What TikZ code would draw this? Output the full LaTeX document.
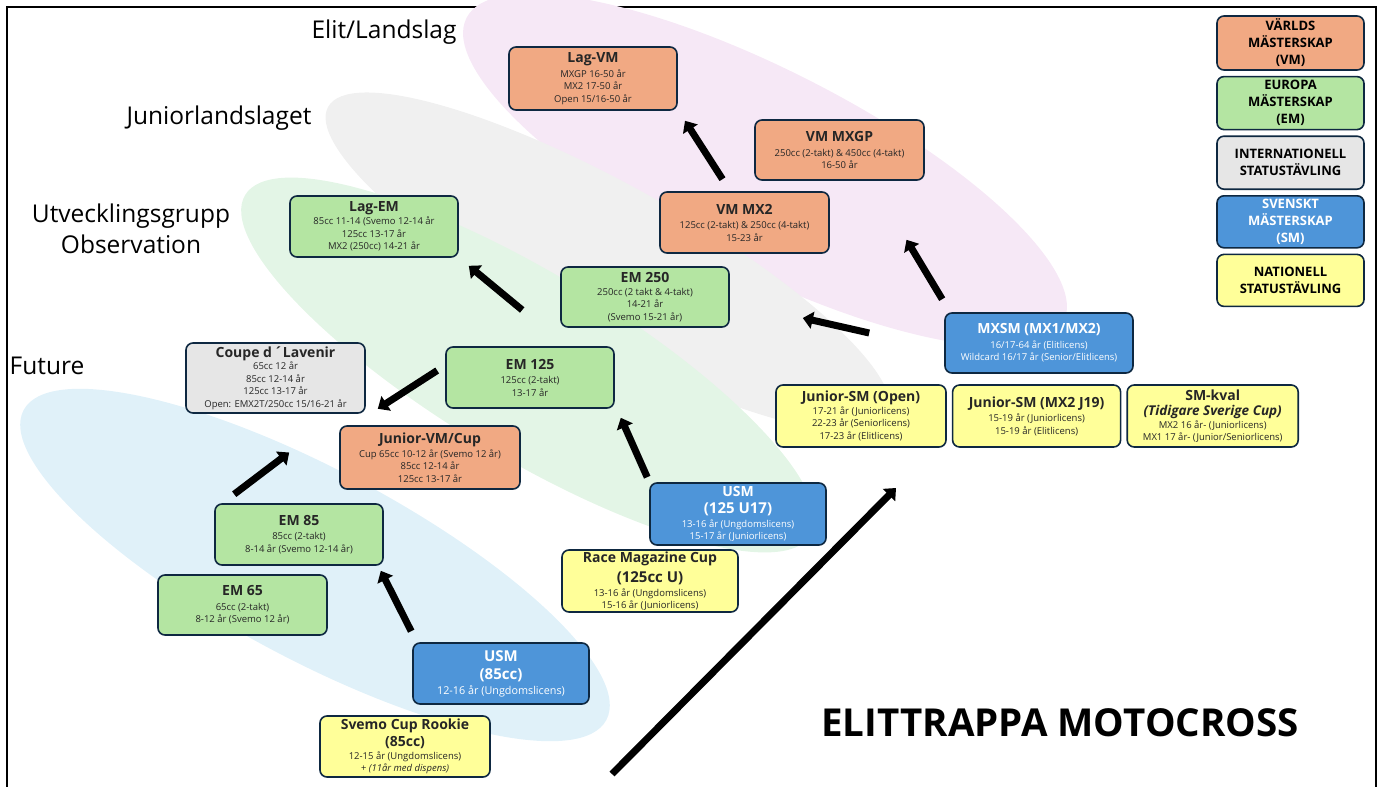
\documentclass[tikz,border=0pt]{standalone}
\usepackage{fontspec}
\setmainfont{Open Sans}
\usetikzlibrary{positioning,calc,arrows.meta}

\definecolor{vmfill}{HTML}{F1A983}
\definecolor{emfill}{HTML}{B4E5A2}
\definecolor{intfill}{HTML}{E6E6E6}
\definecolor{smfill}{HTML}{4E95D9}
\definecolor{natfill}{HTML}{FFFF99}
\definecolor{edge}{HTML}{0E2841}
\definecolor{elitbg}{HTML}{F6E8F6}
\definecolor{juniorbg}{HTML}{F0F0F0}
\definecolor{utvbg}{HTML}{E3F5E6}
\definecolor{futurebg}{HTML}{E0F1F9}
\definecolor{smalltxt}{HTML}{262626}

\newcommand{\hd}[1]{{\fontsize{14}{16}\selectfont\bfseries #1}}
\newcommand{\hdbig}[1]{{\fontsize{15}{17}\selectfont\bfseries #1}}

\tikzset{
  tier/.style={draw=edge, line width=1.6pt, rounded corners=7pt,
    minimum width=168pt, minimum height=61pt, align=center, inner sep=1pt,
    font=\fontsize{9.5}{12.5}\selectfont, text=smalltxt},
  vm/.style={tier, fill=vmfill},
  em/.style={tier, fill=emfill},
  intl/.style={tier, fill=intfill},
  sm/.style={tier, fill=smfill, text=white},
  nat/.style={tier, fill=natfill},
  keybox/.style={draw=edge, line width=1.6pt, rounded corners=7pt,
    minimum width=147pt, minimum height=53pt, align=center, inner sep=0pt,
    font=\fontsize{13}{17}\selectfont\bfseries},
  stage/.style={font=\fontsize{24.5}{31}\selectfont, align=center},
  push/.style={line width=7pt, -{Triangle[length=10pt,width=17pt]}},
}

\begin{document}
\begin{tikzpicture}[x=1pt,y=-1pt]
\useasboundingbox (0,0) rectangle (1384,787);
\draw[line width=1.4pt] (7,800) -- (7,7) -- (1376,7) -- (1376,800);

% levels in the background
\fill[elitbg, rotate around={-27:(765,170)}] (765,170) ellipse [x radius=335, y radius=100];
\fill[juniorbg, rotate around={-29:(608,262)}] (608,262) ellipse [x radius=320, y radius=78];
\fill[utvbg, rotate around={-31:(528,365)}] (528,365) ellipse [x radius=330, y radius=92];
\fill[futurebg, rotate around={-28:(315,565)}] (315,565) ellipse [x radius=330, y radius=95];

\node[stage] (elit) at (384,32) {Elit/Landslag};
\node[stage] (junior) at (219,118) {Juniorlandslaget};
\node[stage] (utv) at (131,229) {Utvecklingsgrupp\\Observation};
\node[stage] (future) at (47,366) {Future};

% competitions
\node[vm, minimum height=63pt] (lagvm) at (593,78.5) {\hd{Lag-VM}\\[2pt]MXGP 16-50 år\\MX2 17-50 år\\Open 15/16-50 år};
\node[vm, minimum width=169pt, minimum height=60pt] (vmmxgp) at (839.5,150) {\hd{VM MXGP}\\[2pt]250cc (2-takt) \& 450cc (4-takt)\\16-50 år};
\node[vm, minimum width=169pt] (vmmx2) at (744.5,222.5) {\hd{VM MX2}\\[2pt]125cc (2-takt) \& 250cc (4-takt)\\15-23 år};
\node[em, minimum height=60pt] (em250) at (645,297) {\hd{EM 250}\\250cc (2 takt \& 4-takt)\\14-21 år\\(Svemo 15-21 år)};
\node[em] (lagem) at (374,226.5) {\hd{Lag-EM}\\[1pt]85cc 11-14 (Svemo 12-14 år\\125cc 13-17 år\\MX2 (250cc) 14-21 år};
\node[em] (em125) at (530,377.5) {\hd{EM 125}\\[2pt]125cc (2-takt)\\13-17 år};
\node[intl, minimum width=179pt, minimum height=70pt] (coupe) at (275.5,378) {\hd{Coupe d\,´Lavenir}\\65cc 12 år\\85cc 12-14 år\\125cc 13-17 år\\Open: EMX2T/250cc 15/16-21 år};
\node[vm, minimum width=180pt, minimum height=63pt] (jvm) at (430,457.5) {\hd{Junior-VM/Cup}\\[1pt]Cup 65cc 10-12 år (Svemo 12 år)\\85cc 12-14 år\\125cc 13-17 år};
\node[em] (em85) at (299,534.5) {\hd{EM 85}\\[2pt]85cc (2-takt)\\8-14 år (Svemo 12-14 år)};
\node[em, minimum width=169pt, minimum height=60pt] (em65) at (242.5,605) {\hd{EM 65}\\[2pt]65cc (2-takt)\\8-12 år (Svemo 12 år)};
\node[sm, minimum width=176pt, font=\fontsize{10.8}{14}\selectfont] (usm85) at (501,673.5) {\hdbig{USM}\\[4pt]\hdbig{(85cc)}\\[1pt]12-16 år (Ungdomslicens)};
\node[nat, minimum width=170pt] (rookie) at (405,746.5) {\hd{Svemo Cup Rookie}\\[3pt]\hd{(85cc)}\\12-15 år (Ungdomslicens)\\\textit{+ (11år med dispens)}};
\node[sm, minimum width=176pt, minimum height=62pt] (usm125) at (738,514) {\hd{USM}\\[5pt]\hdbig{(125 U17)}\\[1pt]13-16 år (Ungdomslicens)\\15-17 år (Juniorlicens)};
\node[nat, minimum width=176pt, minimum height=62pt] (race) at (650,581) {\hd{Race Magazine Cup}\\[5pt]\hdbig{(125cc U)}\\[1pt]13-16 år (Ungdomslicens)\\15-16 år (Juniorlicens)};
\node[sm, minimum width=188pt, minimum height=60pt] (mxsm) at (1039,343) {\hd{MXSM (MX1/MX2)}\\[2pt]16/17-64 år (Elitlicens)\\Wildcard 16/17 år (Senior/Elitlicens)};
\node[nat, minimum width=170pt, minimum height=62pt] (jsmopen) at (861,416) {\hd{Junior-SM (Open)}\\17-21 år (Juniorlicens)\\22-23 år (Seniorlicens)\\17-23 år (Elitlicens)};
\node[nat, minimum height=62pt, right=5pt of jsmopen] (jsmmx2) {\hd{Junior-SM (MX2 J19)}\\[2pt]15-19 år (Juniorlicens)\\15-19 år (Elitlicens)};
\node[nat, minimum width=171pt, minimum height=62pt, right=5pt of jsmmx2] (smkval) {\hd{SM-kval}\\[3pt]{\fontsize{13.5}{15}\selectfont\bfseries\itshape (Tidigare Sverige Cup)}\\MX2 16 år- (Juniorlicens)\\MX1 17 år- (Junior/Seniorlicens)};

% legend
\node[keybox, fill=vmfill, minimum height=54pt] (keyvm) at (1290.5,43) {VÄRLDS\\MÄSTERSKAP\\(VM)};
\node[keybox, fill=emfill, below=5pt of keyvm] (keyem) {EUROPA\\MÄSTERSKAP\\(EM)};
\node[keybox, fill=intfill, below=5pt of keyem] (keyint) {INTERNATIONELL\\STATUSTÄVLING};
\node[keybox, fill=smfill, text=white, minimum height=52pt, below=5pt of keyint] (keysm) {SVENSKT\\MÄSTERSKAP\\(SM)};
\node[keybox, fill=natfill, minimum height=52pt, below=5pt of keysm] (keynat) {NATIONELL\\STATUSTÄVLING};

\node[font=\fontsize{38.5}{40}\selectfont\bfseries] (title) at (1060,723) {ELITTRAPPA MOTOCROSS};

% steps up
\draw[push] ($(vmmx2.north)+(-22,-12)$) -- ($(lagvm.south)+(92,10)$);
\draw[push] ($(mxsm.north west)+(-2,-13)$) -- ($(vmmxgp.south)+(67,59)$);
\draw[push] ($(mxsm.west)+(-75,-10)$) -- ($(em250.east)+(73,21)$);
\draw[push] ($(em250.west)+(-38,13)$) -- ($(lagem.south east)+(10,8)$);
\draw[push] ($(em125.west)+(-8,-7)$) -- ($(coupe.south east)+(12,-5)$);
\draw[push] ($(usm125.north west)+(-2,-5)$) -- ($(em125.south east)+(6,9)$);
\draw[push] ($(em85.north west)+(20,-9)$) -- ($(jvm.west)+(-50,-5)$);
\draw[push] ($(usm85.north west)+(-1,-11)$) -- ($(em85.south east)+(-3,5)$);

\coordinate (climbstart) at (612,774);
\coordinate (climbend) at (896,488);
\draw[push] (climbstart) -- (climbend);
\end{tikzpicture}
\end{document}
